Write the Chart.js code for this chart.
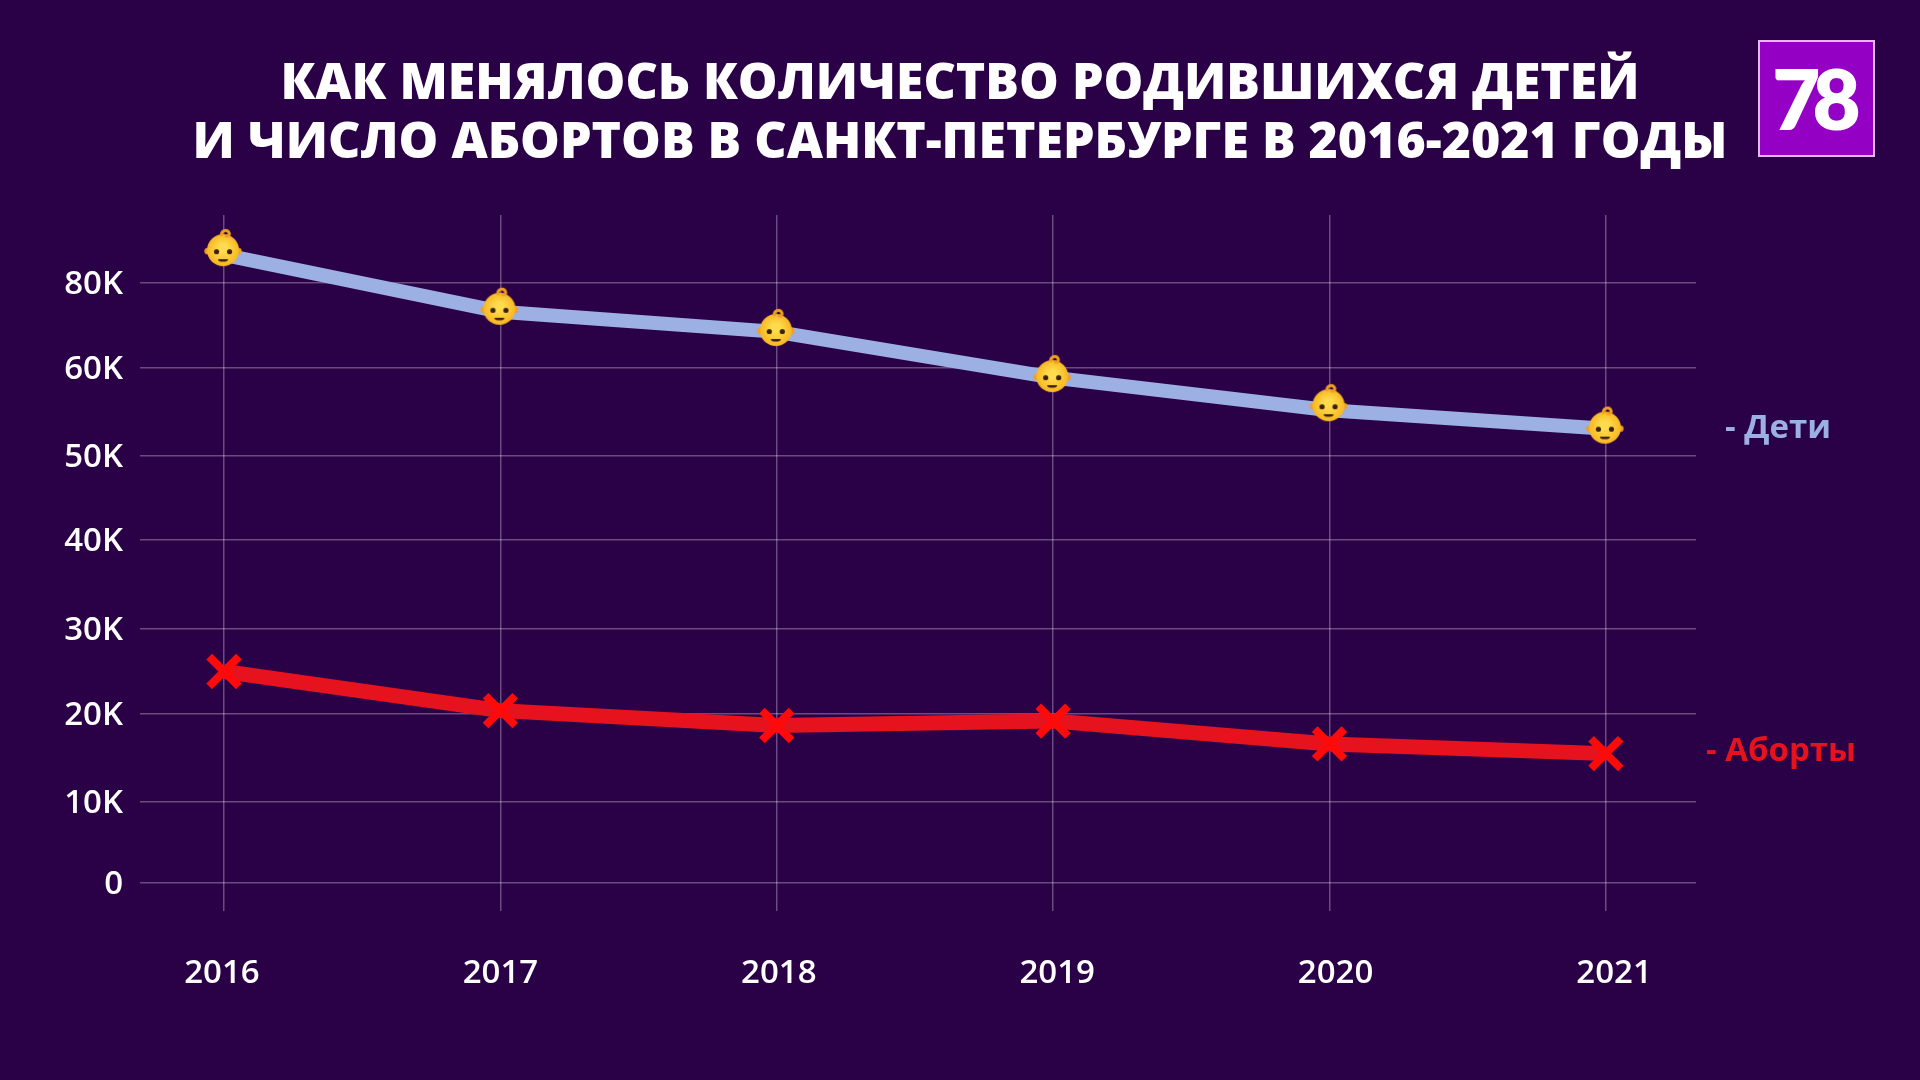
<!DOCTYPE html>
<html lang="ru">
<head>
<meta charset="utf-8">
<title>Рождаемость и аборты в Санкт-Петербурге</title>
<script src="https://cdn.jsdelivr.net/npm/chart.js@4/dist/chart.umd.min.js"></script>
<style>
  html, body { margin: 0; padding: 0; background: #2a0047; }
  #wrap { position: relative; width: 1920px; height: 1080px; overflow: hidden; }
  #logo {
    position: absolute; left: 1758px; top: 40px; width: 105px; height: 113px; padding-right: 8px;
    background: #9400c4; border: 2px solid #e6b8f0; color: #fff;
    font: 800 83px/113px Lato, sans-serif; letter-spacing: -8px; text-align: center;
  }
</style>
</head>
<body>
<div id="wrap">
  <canvas id="chart" width="1920" height="1080"></canvas>
  <div id="logo">78</div>
</div>
<script>
const titleLines = ['КАК МЕНЯЛОСЬ КОЛИЧЕСТВО РОДИВШИХСЯ ДЕТЕЙ', 'И ЧИСЛО АБОРТОВ В САНКТ-ПЕТЕРБУРГЕ В 2016-2021 ГОДЫ'];
const years = [2016, 2017, 2018, 2019, 2020, 2021];
const births = [86600, 73250, 68500, 58900, 55200, 53100];
const birthIcons = [88200, 74400, 69400, 59300, 56000, 53450];
const abortions = [25000, 20400, 18700, 19200, 16600, 15500];
const yTicks = [0, 10000, 20000, 30000, 40000, 50000, 60000, 80000];
const yTickLabels = ['0', '10K', '20K', '30K', '40K', '50K', '60K', '80K'];

// the source axis is not linear (60K -> 80K takes one step), so ticks get their own places
const yTickPlaces = [0.0402, 0.1566, 0.2830, 0.4052, 0.5330, 0.6537, 0.7802, 0.9023];
const yRange = [-3500, 96000];

class StepScale extends Chart.LinearScale {
  stops() {
    return [[yRange[0], 0], ...yTicks.map((v, i) => [v, yTickPlaces[i]]), [yRange[1], 1]];
  }
  buildTicks() {
    this.min = yRange[0];
    this.max = yRange[1];
    return yTicks.map((value) => ({ value }));
  }
  getPixelForValue(value) {
    const s = this.stops();
    let i = 0;
    while (i < s.length - 2 && value > s[i + 1][0]) i++;
    const t = (value - s[i][0]) / (s[i + 1][0] - s[i][0]);
    return this.bottom - (s[i][1] + t * (s[i + 1][1] - s[i][1])) * (this.bottom - this.top);
  }
  getValueForPixel(pixel) {
    const f = (this.bottom - pixel) / (this.bottom - this.top);
    const s = this.stops();
    let i = 0;
    while (i < s.length - 2 && f > s[i + 1][1]) i++;
    return s[i][0] + ((f - s[i][1]) / (s[i + 1][1] - s[i][1])) * (s[i + 1][0] - s[i][0]);
  }
}
StepScale.id = 'steps';
StepScale.defaults = Chart.LinearScale.defaults;
Chart.register(StepScale);

function babyIcon() {
  const c = document.createElement('canvas');
  c.width = 42;
  c.height = 42;
  const g = c.getContext('2d');
  g.translate(-1, 0);
  // ears
  g.fillStyle = '#f0a020';
  g.beginPath(); g.arc(5.5, 24, 3.2, 0, Math.PI * 2); g.fill();
  g.beginPath(); g.arc(36.5, 24, 3.2, 0, Math.PI * 2); g.fill();
  // head
  const face = g.createRadialGradient(21, 21, 4, 21, 23, 17);
  face.addColorStop(0, '#ffdc4e');
  face.addColorStop(1, '#f8b41e');
  g.fillStyle = face;
  g.beginPath(); g.arc(21, 23, 16, 0, Math.PI * 2); g.fill();
  // curl
  g.strokeStyle = '#f0a020';
  g.lineWidth = 3;
  g.beginPath(); g.moveTo(20, 9); g.bezierCurveTo(18, 4, 25, 1, 27, 5.5); g.bezierCurveTo(28, 9, 25, 10, 23.5, 8); g.stroke();
  // eyes and mouth
  g.fillStyle = '#3a2208';
  g.beginPath(); g.arc(14.5, 24.5, 2.6, 0, Math.PI * 2); g.fill();
  g.beginPath(); g.arc(27.5, 24.5, 2.6, 0, Math.PI * 2); g.fill();
  g.beginPath(); g.ellipse(21, 32, 5, 2.6, 0, 0, Math.PI); g.fill();
  return c;
}

const sideLabels = {
  id: 'sideLabels',
  afterDraw(chart) {
    const { ctx, scales } = chart;
    ctx.save();
    ctx.font = '700 33px "Open Sans"';
    ctx.textBaseline = 'middle';
    ctx.fillStyle = '#9db0e4';
    ctx.fillText('- Дети', 1725, scales.y.getPixelForValue(births[5]));
    ctx.fillStyle = '#e6131f';
    ctx.fillText('- Аборты', 1706, scales.y.getPixelForValue(abortions[5]) - 2);
    ctx.restore();
  }
};

const gridColor = 'rgba(255,255,255,0.3)';
const tickFont = { family: '"Open Sans"', size: 33, weight: '600' };

Chart.defaults.color = '#fff';

new Chart(document.getElementById('chart'), {
  type: 'line',
  data: {
    datasets: [
      {
        label: 'Дети, значки',
        data: years.map((y, i) => ({ x: y, y: birthIcons[i] })),
        showLine: false,
        pointStyle: babyIcon(),
        pointRadius: 21
      },
      {
        label: 'Дети',
        data: years.map((y, i) => ({ x: y, y: births[i] })),
        borderColor: '#9db0e4',
        borderWidth: 14,
        pointRadius: 0,
        tension: 0
      },
      {
        label: 'Аборты',
        data: years.map((y, i) => ({ x: y, y: abortions[i] })),
        borderColor: '#e6131f',
        borderWidth: 15,
        pointStyle: 'crossRot',
        pointRadius: 21,
        pointBorderWidth: 8,
        pointBorderColor: '#ff0a0a',
        tension: 0
      }
    ]
  },
  options: {
    responsive: false,
    animation: false,
    plugins: {
      legend: { display: false },
      tooltip: { enabled: false },
      title: {
        display: true,
        text: titleLines,
        color: '#fff',
        font: { family: '"Open Sans"', size: 50, weight: '800', lineHeight: 1.18 },
        padding: { top: 55, bottom: 42 }
      }
    },
    scales: {
      x: {
        type: 'linear',
        min: 2015.696,
        max: 2021.326,
        afterBuildTicks: (s) => { s.ticks = years.map((value) => ({ value })); },
        afterFit: (s) => { s.height = 0; },
        ticks: { display: false },
        border: { display: false },
        grid: { color: gridColor, lineWidth: 1.5, drawTicks: false }
      },
      // year labels sit on a slightly wider pitch than the gridlines
      xLabels: {
        type: 'linear',
        position: 'bottom',
        min: 2015.7055,
        max: 2021.2945,
        afterBuildTicks: (s) => { s.ticks = years.map((value) => ({ value })); },
        afterFit: (s) => { s.height = 169; },
        grid: { display: false },
        border: { display: false },
        ticks: { font: tickFont, color: '#fff', padding: 35, maxRotation: 0, autoSkip: false, callback: (v) => String(v) }
      },
      y: {
        type: 'steps',
        afterFit: (s) => { s.width = 140; },
        border: { display: false },
        grid: { color: gridColor, lineWidth: 1.5, drawTicks: false },
        ticks: {
          font: tickFont,
          color: '#fff',
          padding: 17,
          labelOffset: 2,
          autoSkip: false,
          callback: (v) => yTickLabels[yTicks.indexOf(v)]
        }
      },
      // empty strip on the right keeps the title centred on the page
      rightGap: {
        type: 'linear',
        position: 'right',
        afterFit: (s) => { s.width = 224; },
        grid: { display: false },
        border: { display: false },
        ticks: { display: false }
      }
    }
  },
  plugins: [sideLabels]
});
</script>
</body>
</html>
